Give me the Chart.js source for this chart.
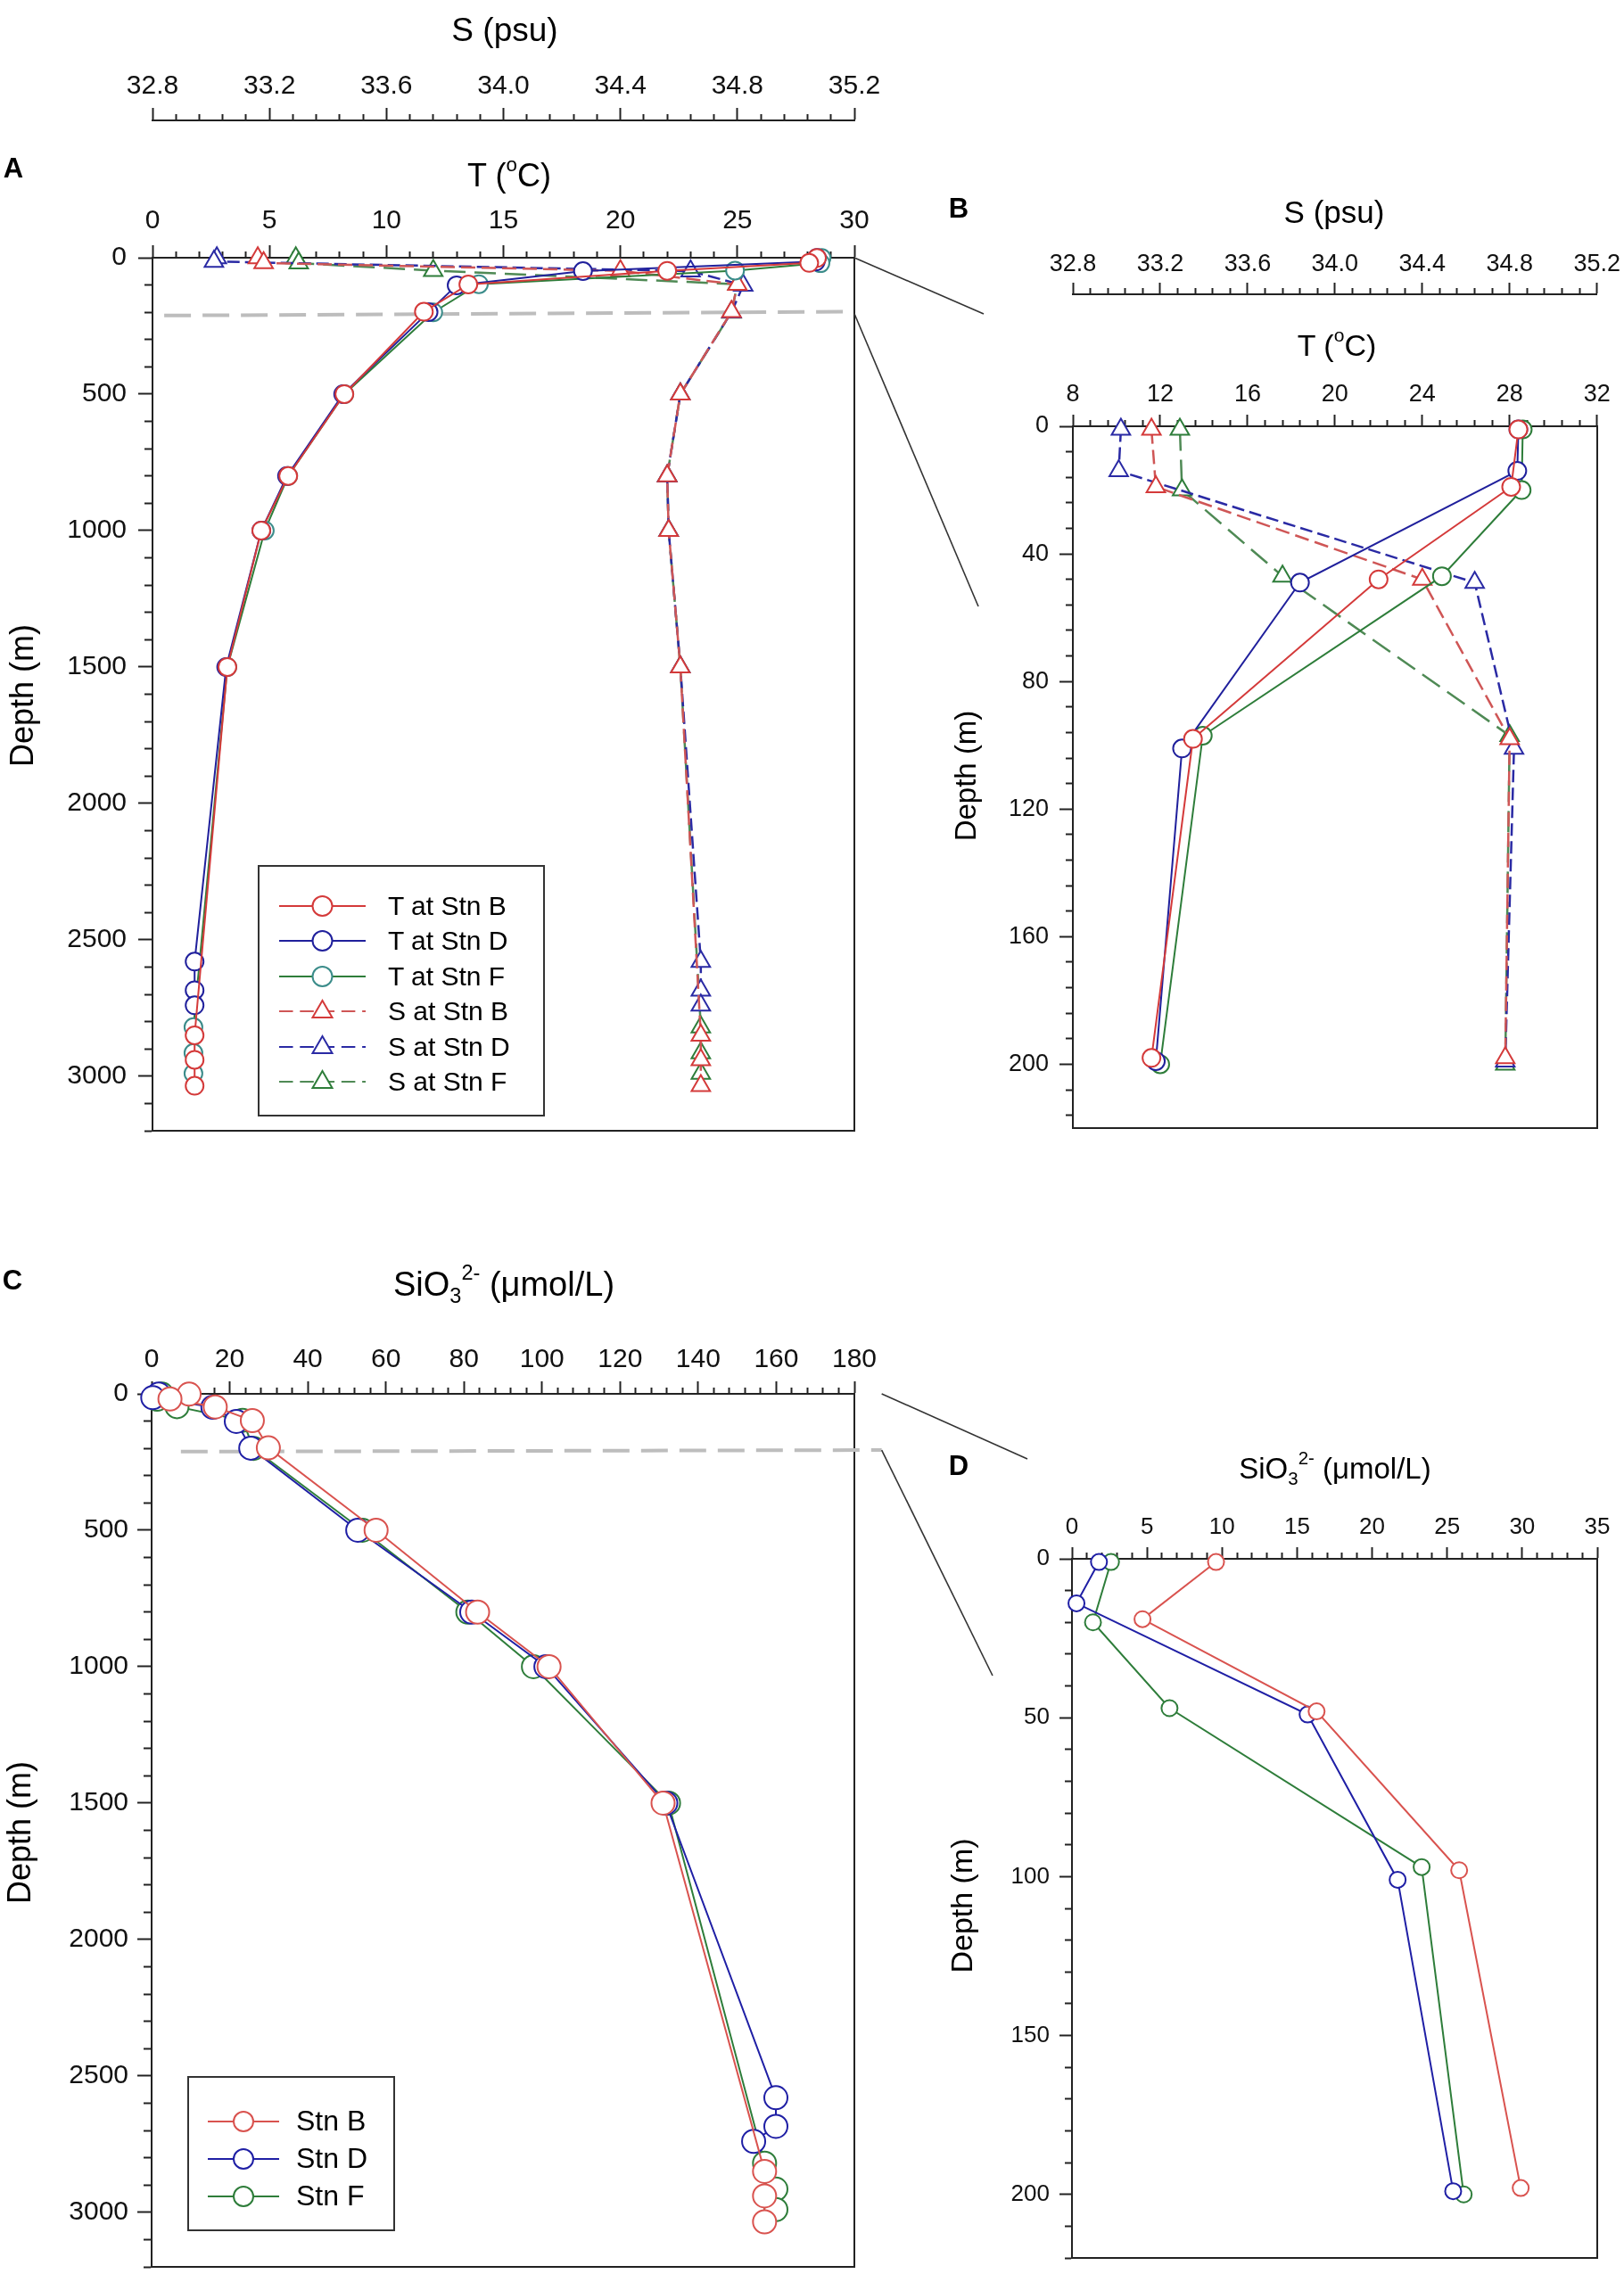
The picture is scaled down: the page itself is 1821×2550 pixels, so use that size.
<!DOCTYPE html>
<html>
<head>
<meta charset="utf-8">
<script src="https://cdn.jsdelivr.net/npm/chart.js@4.4.0/dist/chart.umd.min.js"></script>
<style>
  body { margin:0; width:1821px; height:2550px; overflow:hidden; background:#fff; position:relative; }
  canvas { position:absolute; }
  .lbl { position:absolute; transform:translate(-50%,-50%); white-space:nowrap; color:#000; line-height:1; }
  .nar { font-family:"Liberation Sans Narrow","Arial Narrow","Liberation Sans",Arial,sans-serif; }
  .reg { font-family:"Liberation Sans",Arial,sans-serif; }
  .rot { transform:translate(-50%,-50%) rotate(-90deg); }
  .pan { font-weight:bold; font-size:31px; }
  sup { font-size:62%; vertical-align:0.75em; line-height:0; }
  sub { font-size:62%; vertical-align:-0.35em; line-height:0; }
  .legend { position:absolute; border:2px solid #333; background:#fff; box-sizing:border-box; }
  .legend .row { position:absolute; left:0; display:flex; align-items:center; }
  #links { position:absolute; left:0; top:0; }
</style>
</head>
<body>
<canvas id="cA"></canvas>
<canvas id="cB"></canvas>
<canvas id="cC"></canvas>
<canvas id="cD"></canvas>
<svg id="links" width="1821" height="2550"></svg>

<div class="lbl nar" style="left:566px;top:33px;font-size:37px">S (psu)</div>
<div class="lbl nar" style="left:571px;top:197px;font-size:36px">T (<sup>o</sup>C)</div>
<div class="lbl nar pan" style="left:15px;top:188px">A</div>
<div class="lbl reg rot" style="left:25px;top:780px;font-size:36px">Depth (m)</div>

<div class="lbl reg pan" style="left:1075px;top:233px">B</div>
<div class="lbl nar" style="left:1496px;top:237px;font-size:35px">S (psu)</div>
<div class="lbl nar" style="left:1499px;top:387px;font-size:34px">T (<sup>o</sup>C)</div>
<div class="lbl reg rot" style="left:1082px;top:870px;font-size:33px">Depth (m)</div>

<div class="lbl nar pan" style="left:14px;top:1435px">C</div>
<div class="lbl nar" style="left:565px;top:1440px;font-size:38px">SiO<sub>3</sub><sup>2-</sup> (μmol/L)</div>
<div class="lbl reg rot" style="left:22px;top:2055px;font-size:36px">Depth (m)</div>

<div class="lbl reg pan" style="left:1075px;top:1643px">D</div>
<div class="lbl reg" style="left:1497px;top:1646px;font-size:33px">SiO<sub>3</sub><sup>2-</sup> (μmol/L)</div>
<div class="lbl reg rot" style="left:1078px;top:2137px;font-size:34px">Depth (m)</div>

<div class="legend reg" id="legA" style="left:289px;top:970px;width:322px;height:282px"></div>
<div class="legend reg" id="legC" style="left:210px;top:2328px;width:233px;height:174px"></div>

<script>
// depths (m) of the bottle samples at each station
const depthB = [1, 19, 48, 98, 198, 500, 800, 1000, 1500, 2850, 2940, 3035];
const depthD = [1, 14, 49, 101, 199, 500, 800, 1000, 1500, 2580, 2685, 2740];
const depthF = [1, 20, 47, 97, 200, 500, 800, 1000, 1500, 2820, 2915, 2990];

// temperature (oC)
const tempB = [28.4, 28.07, 22.0, 13.5, 11.6, 8.2, 5.8, 4.65, 3.2, 1.8, 1.8, 1.8];
const tempD = [28.4, 28.35, 18.4, 13.0, 11.8, 8.15, 5.75, 4.65, 3.15, 1.8, 1.8, 1.8];
const tempF = [28.6, 28.55, 24.9, 13.95, 12.0, 8.2, 5.8, 4.8, 3.2, 1.75, 1.75, 1.75];

// salinity (psu)
const salB = [33.16, 33.18, 34.40, 34.80, 34.78, 34.605, 34.56, 34.565, 34.605, 34.675, 34.675, 34.675];
const salD = [33.02, 33.01, 34.64, 34.82, 34.78, 34.605, 34.56, 34.565, 34.605, 34.675, 34.675, 34.675];
const salF = [33.29, 33.30, 33.76, 34.80, 34.78, 34.605, 34.56, 34.565, 34.605, 34.675, 34.675, 34.675];

// silicate (umol/L)
const siB = [9.6, 4.7, 16.3, 25.8, 29.9, 57.5, 83.5, 101.8, 131, 157, 157, 157];
const siD = [1.8, 0.3, 15.7, 21.7, 25.4, 52.8, 82, 101, 131.7, 159.9, 159.9, 154.2];
const siF = [2.6, 1.4, 6.5, 23.3, 26.1, 54, 81, 97.8, 132.4, 157, 159.9, 159.9];

// the 200 m line marking the zoomed range: [x value, depth]
const zoomLineA = [[0.5, 212], [29.7, 198]];
const zoomLineC = [[7.5, 212], [187, 206]];

// tick labels
const depthTicksDeep = [0, 500, 1000, 1500, 2000, 2500, 3000];
const depthTicksB = [0, 40, 80, 120, 160, 200];
const depthTicksD = [0, 50, 100, 150, 200];
const tTicksA = [0, 5, 10, 15, 20, 25, 30];
const tTicksB = [8, 12, 16, 20, 24, 28, 32];
const sTicks = [32.8, 33.2, 33.6, 34.0, 34.4, 34.8, 35.2];
const siTicksC = [0, 20, 40, 60, 80, 100, 120, 140, 160, 180];
const siTicksD = [0, 5, 10, 15, 20, 25, 30, 35];

const RED = '#d43a3a', BLUE = '#20209c', GREEN = '#2e7d3a', TEAL = '#3b8c8a';
const SRED = '#cf5656', SBLUE = '#2a2aa4', SGREEN = '#4f8a55';
const NARROW = '"Liberation Sans Narrow","Arial Narrow","Liberation Sans",Arial,sans-serif';
const REG = '"Liberation Sans",Arial,sans-serif';

function isIn(arr, v) { return arr.some(a => Math.abs(a - v) < 1e-6); }

function axis(o) {
  return {
    type: 'linear', axis: o.axis, position: o.position, min: o.min, max: o.max,
    reverse: !!o.reverse, weight: o.weight || 0,
    ticks: {
      stepSize: o.step, autoSkip: false, includeBounds: false, maxRotation: 0, minRotation: 0,
      padding: o.pad, color: '#111', font: { family: o.font || NARROW, size: o.size || 30 },
      callback: v => isIn(o.labels, v) ? (o.fmt ? o.fmt(v) : String(v)) : ''
    },
    grid: {
      drawOnChartArea: false, drawTicks: true, tickLength: o.tl, tickWidth: 2, tickColor: '#222',
      tickBorderDash: c => (c.tick && !isIn(o.labels, c.tick.value)) ? [o.ml, o.tl] : [],
      tickBorderDashOffset: c => (c.tick && !isIn(o.labels, c.tick.value)) ? 2 * o.ml : 0
    },
    border: { display: true, color: '#222', width: 2 },
    afterFit: s => { if (o.axis === 'y') s.width = o.fixed; else s.height = o.fixed; }
  };
}

function frame(ax, position) {
  return {
    type: 'linear', axis: ax, position, min: 0, max: 1,
    ticks: { display: false }, grid: { display: false, drawTicks: false },
    border: { display: true, color: '#222', width: 2 },
    afterFit: s => { if (ax === 'y') s.width = 0; else s.height = 0; }
  };
}

function pts(xs, ys, n) {
  return xs.slice(0, n).map((x, i) => ({ x: x, y: ys[i] }));
}

function profile(label, xs, ys, n, xAxisID, line, marker, style, radius, dash) {
  return {
    label, data: pts(xs, ys, n), xAxisID, yAxisID: 'y', showLine: true, clip: false,
    borderColor: line, borderWidth: dash ? 2.5 : 2, borderDash: dash || [],
    pointStyle: style, pointRadius: radius, pointBorderWidth: 2,
    pointBorderColor: marker, pointBackgroundColor: '#fff'
  };
}

function zoomLine(pair, xAxisID) {
  return {
    data: pair.map(p => ({ x: p[0], y: p[1] })), xAxisID, yAxisID: 'y', showLine: true, clip: false,
    borderColor: '#bdbdbd', borderWidth: 4, borderDash: [30, 13], pointRadius: 0, order: 10
  };
}

function makeChart(id, box, scales, datasets) {
  const cv = document.getElementById(id);
  cv.width = box.w; cv.height = box.h;
  cv.style.left = box.x + 'px'; cv.style.top = box.y + 'px';
  return new Chart(cv, {
    type: 'scatter',
    data: { datasets },
    options: {
      responsive: false, animation: false, events: [],
      layout: { padding: { left: 0, top: 0, right: box.pr, bottom: box.pb } },
      plugins: { legend: { display: false }, tooltip: { enabled: false } },
      scales
    }
  });
}

function tsSets(n, fCircle) {
  return [
    profile('T at Stn B', tempB, depthB, n, 'xT', RED, RED, 'circle', 10),
    profile('T at Stn D', tempD, depthD, n, 'xT', BLUE, BLUE, 'circle', 10),
    profile('T at Stn F', tempF, depthF, n, 'xT', GREEN, fCircle, 'circle', 10),
    profile('S at Stn B', salB, depthB, n, 'xS', SRED, RED, 'triangle', 12, [16, 7]),
    profile('S at Stn D', salD, depthD, n, 'xS', SBLUE, SBLUE, 'triangle', 12, [14, 6]),
    profile('S at Stn F', salF, depthF, n, 'xS', SGREEN, GREEN, 'triangle', 12, [24, 10])
  ];
}

function siSets(n, r) {
  return [
    profile('Stn B', siB, depthB, n, 'xT', '#d9534f', '#d9534f', 'circle', r),
    profile('Stn D', siD, depthD, n, 'xT', '#1f1fa5', '#1f1fa5', 'circle', r),
    profile('Stn F', siF, depthF, n, 'xT', GREEN, GREEN, 'circle', r)
  ];
}

// Panel A: full-depth T and S
const chartA = makeChart('cA', { x: 0, y: 0, w: 1000, h: 1300, pr: 42, pb: 32 }, {
  y: axis({ axis: 'y', position: 'left', min: 0, max: 3200, step: 100, reverse: true, labels: depthTicksDeep, tl: 16, ml: 9, pad: 13, fixed: 171 }),
  xT: axis({ axis: 'x', position: 'top', min: 0, max: 30, step: 1, labels: tTicksA, tl: 14, ml: 7, pad: 9, fixed: 154 }),
  xS: axis({ axis: 'x', position: 'top', min: 32.8, max: 35.2, step: 0.08, labels: sTicks, fmt: v => v.toFixed(1), tl: 14, ml: 7, pad: 6, fixed: 135, weight: 1 }),
  yR: frame('y', 'right'), xB: frame('x', 'bottom')
}, tsSets(undefined, TEAL).concat([zoomLine(zoomLineA, 'xT')]));

// Panel B: upper 200 m T and S
const chartB = makeChart('cB', { x: 1000, y: 180, w: 821, h: 1130, pr: 30, pb: 45 }, {
  y: axis({ axis: 'y', position: 'left', min: 0, max: 220, step: 8, reverse: true, labels: depthTicksB, tl: 15, ml: 8, pad: 12, fixed: 203, size: 27 }),
  xT: axis({ axis: 'x', position: 'top', min: 8, max: 32, step: 0.8, labels: tTicksB, tl: 13, ml: 7, pad: 6, fixed: 148, size: 27 }),
  xS: axis({ axis: 'x', position: 'top', min: 32.8, max: 35.2, step: 0.08, labels: sTicks, fmt: v => v.toFixed(1), tl: 13, ml: 7, pad: 4, fixed: 150, weight: 1, size: 27 }),
  yR: frame('y', 'right'), xB: frame('x', 'bottom')
}, tsSets(5, GREEN));

// Panel C: full-depth silicate
const chartC = makeChart('cC', { x: 0, y: 1380, w: 1000, h: 1220, pr: 42, pb: 58 }, {
  y: axis({ axis: 'y', position: 'left', min: 0, max: 3200, step: 100, reverse: true, labels: depthTicksDeep, tl: 16, ml: 9, pad: 10, fixed: 170 }),
  xT: axis({ axis: 'x', position: 'top', min: 0, max: 180, step: 4, labels: siTicksC, tl: 14, ml: 7, pad: 6, fixed: 183 }),
  yR: frame('y', 'right'), xB: frame('x', 'bottom')
}, siSets(undefined, 13).concat([zoomLine(zoomLineC, 'xT')]));

// Panel D: upper 200 m silicate
const chartD = makeChart('cD', { x: 1000, y: 1560, w: 821, h: 1030, pr: 30, pb: 58 }, {
  y: axis({ axis: 'y', position: 'left', min: 0, max: 220, step: 10, reverse: true, labels: depthTicksD, tl: 14, ml: 8, pad: 11, fixed: 202, font: REG, size: 26 }),
  xT: axis({ axis: 'x', position: 'top', min: 0, max: 35, step: 1, labels: siTicksD, tl: 13, ml: 7, pad: 7, fixed: 188, font: REG, size: 26 }),
  yR: frame('y', 'right'), xB: frame('x', 'bottom')
}, siSets(5, 9));

// legends built from the dataset styles
function sample(ds, w) {
  const y = 15, cx = w / 2;
  const dash = ds.borderDash.length ? `stroke-dasharray="${w * 0.16} ${w * 0.08}"` : '';
  const m = ds.pointStyle === 'triangle'
    ? `<polygon points="${cx},${y - 12} ${cx + 11},${y + 7} ${cx - 11},${y + 7}" fill="#fff" stroke="${ds.pointBorderColor}" stroke-width="2"/>`
    : `<circle cx="${cx}" cy="${y}" r="11" fill="#fff" stroke="${ds.pointBorderColor}" stroke-width="2"/>`;
  return `<svg width="${w}" height="30"><line x1="0" y1="${y}" x2="${w}" y2="${y}" stroke="${ds.borderColor}" stroke-width="2" ${dash}/>${m}</svg>`;
}
function buildLegend(el, chart, o) {
  chart.data.datasets.filter(d => d.label).forEach((d, i) => {
    const row = document.createElement('div');
    row.className = 'row';
    row.style.top = (o.first + i * o.step - 15) + 'px';
    row.style.left = o.left + 'px';
    row.innerHTML = sample(d, o.w) + `<span style="margin-left:${o.gap}px;font-size:${o.size}px">${d.label}</span>`;
    el.appendChild(row);
  });
}
buildLegend(document.getElementById('legA'), chartA, { first: 42, step: 39.4, left: 22, w: 97, gap: 25, size: 30 });
buildLegend(document.getElementById('legC'), chartC, { first: 45, step: 42, left: 21, w: 80, gap: 19, size: 32 });

// zoom connectors between the panels
function line(x1, y1, x2, y2) {
  const l = document.createElementNS('http://www.w3.org/2000/svg', 'line');
  l.setAttribute('x1', x1); l.setAttribute('y1', y1); l.setAttribute('x2', x2); l.setAttribute('y2', y2);
  l.setAttribute('stroke', '#333'); l.setAttribute('stroke-width', '1.6');
  document.getElementById('links').appendChild(l);
}
const a = chartA.chartArea, b = chartB.chartArea, c = chartC.chartArea, d = chartD.chartArea;
line(a.right, a.top, 1000 + b.left - 100, 180 + b.top - 126);
line(a.right, chartA.scales.y.getPixelForValue(205), 1000 + b.left - 106, 180 + b.top + 202);
const cx = chartC.scales.xT.getPixelForValue(zoomLineC[1][0]);
line(cx, 1380 + c.top, 1000 + d.left - 50, 1560 + d.top - 112);
line(cx, 1380 + chartC.scales.y.getPixelForValue(zoomLineC[1][1]), 1000 + d.left - 89, 1560 + d.top + 131);
</script>
</body>
</html>
